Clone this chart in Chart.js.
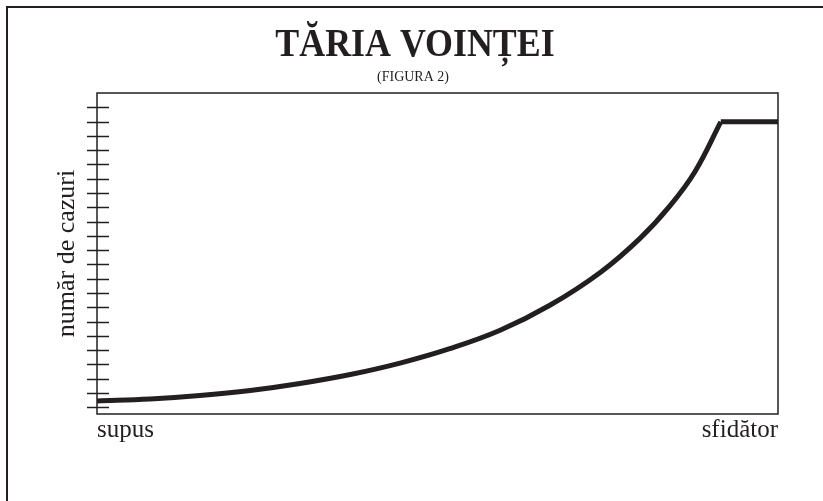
<!DOCTYPE html>
<html>
<head>
<meta charset="utf-8">
<script src="https://cdn.jsdelivr.net/npm/chart.js"></script>
<style>
html, body { margin: 0; padding: 0; background: #fff; }
</style>
</head>
<body>
<canvas id="willChart" width="823" height="501"></canvas>
<script>
// texts
var titleText = 'TĂRIA VOINȚEI';
var subtitleText = '(FIGURA 2)';
var yAxisTitle = 'număr de cazuri';
var xLabels = ['supus', 'sfidător'];

// curve (x: 0 = supus, 100 = sfidător)
var curveX = [0, 7.8, 15.1, 22.5, 29.8, 37.2, 44.5, 51.8, 59.2, 66.5, 73.9, 79.7, 84.1, 87.8, 91.6];
var curveY = [0.44, 0.58, 0.82, 1.17, 1.66, 2.29, 3.09, 4.10, 5.39, 7.14, 9.44, 11.81, 14.08, 16.49, 19.98];

// flat part at the top
var plateauX = [91.6, 100];
var plateauY = [19.98, 19.98];

// tick marks on the left axis
var yTicks = [0, 1, 2, 3, 4, 5, 6, 7, 8, 9, 10, 11, 12, 13, 14, 15, 16, 17, 18, 19, 20, 21];

var ink = '#231f20';
var serif = '"Liberation Serif", "Times New Roman", serif';

function toPoints(xs, ys) {
    return xs.map(function (x, i) { return { x: x, y: ys[i] }; });
}

// outer frame, plot box, tick marks crossing the axis
var framePlugin = {
    id: 'frame',
    beforeDatasetsDraw: function (chart) {
        var ctx = chart.ctx;
        var a = chart.chartArea;
        var yScale = chart.scales.y;
        ctx.save();
        ctx.strokeStyle = ink;

        // outer border (open on right and bottom)
        ctx.lineWidth = 2;
        ctx.beginPath();
        ctx.moveTo(7, 501);
        ctx.lineTo(7, 7);
        ctx.lineTo(823, 7);
        ctx.stroke();

        // plot box
        ctx.lineWidth = 1.5;
        ctx.strokeRect(a.left, a.top, a.right - a.left, a.bottom - a.top);

        // ticks
        yTicks.forEach(function (v) {
            var py = Math.round(yScale.getPixelForValue(v)) + 0.5;
            ctx.beginPath();
            ctx.moveTo(a.left - 10, py);
            ctx.lineTo(a.left + 12, py);
            ctx.stroke();
        });
        ctx.restore();
    },
    afterDraw: function (chart) {
        var ctx = chart.ctx;
        ctx.save();
        ctx.fillStyle = ink;
        ctx.textAlign = 'center';
        ctx.textBaseline = 'alphabetic';

        // condensed bold title
        ctx.font = 'bold 41px ' + serif;
        ctx.translate(415, 56);
        ctx.scale(0.875, 1);
        ctx.fillText(titleText, 0, 0);
        ctx.restore();

        ctx.save();
        ctx.fillStyle = ink;
        ctx.textAlign = 'center';
        ctx.font = '14px ' + serif;
        ctx.fillText(subtitleText, 413, 81);
        ctx.restore();
    }
};

var ctx = document.getElementById('willChart').getContext('2d');
var willChart = new Chart(ctx, {
    type: 'line',
    data: {
        datasets: [{
            label: 'curba',
            data: toPoints(curveX, curveY),
            borderColor: ink,
            borderWidth: 5,
            pointRadius: 0,
            fill: false,
            tension: 0.4
        }, {
            label: 'platou',
            data: toPoints(plateauX, plateauY),
            borderColor: ink,
            borderWidth: 5,
            pointRadius: 0,
            fill: false,
            tension: 0
        }]
    },
    options: {
        responsive: false,
        animation: false,
        layout: {
            padding: { top: 93, left: 7, right: 45, bottom: 55 }
        },
        plugins: {
            legend: { display: false },
            title: { display: false },
            tooltip: { enabled: false }
        },
        scales: {
            x: {
                type: 'linear',
                min: 0,
                max: 100,
                afterBuildTicks: function (scale) {
                    scale.ticks = [{ value: 0 }, { value: 100 }];
                },
                grid: { display: false, drawTicks: false },
                border: { display: false },
                ticks: {
                    autoSkip: false,
                    maxRotation: 0,
                    align: 'inner',
                    padding: 1,
                    color: ink,
                    font: { family: serif, size: 25 },
                    callback: function (v, i) { return xLabels[i]; }
                }
            },
            y: {
                type: 'linear',
                min: -0.47,
                max: 22,
                afterBuildTicks: function (scale) {
                    scale.ticks = yTicks.map(function (v) { return { value: v }; });
                },
                afterFit: function (scale) {
                    scale.width = 90;
                },
                grid: { display: false, drawTicks: false },
                border: { display: false },
                ticks: { display: false },
                title: {
                    display: true,
                    text: yAxisTitle,
                    color: ink,
                    font: { family: serif, size: 26 },
                    padding: { top: 45, bottom: 0 }
                }
            }
        }
    },
    plugins: [framePlugin]
});
</script>
</body>
</html>
